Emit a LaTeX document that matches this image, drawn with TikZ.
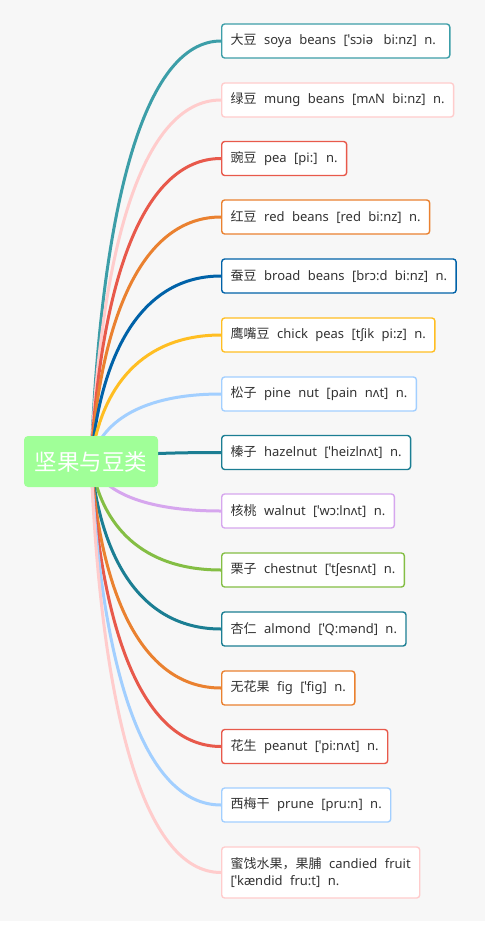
\documentclass[tikz,border=0pt]{standalone}
\usepackage{fontspec}
\setmainfont{Noto Sans}[WordSpace=2.2]
\newfontfamily\cjk{Noto Sans CJK SC}[WordSpace=2.2]
\usetikzlibrary{calc}
\pgfdeclarelayer{bgpaper}
\pgfdeclarelayer{edgelayer}
\pgfsetlayers{bgpaper,edgelayer,main}
\definecolor{cA}{HTML}{3C9EA8}
\definecolor{cB}{HTML}{FFCCCC}
\definecolor{cC}{HTML}{E8594B}
\definecolor{cD}{HTML}{EA8130}
\definecolor{cE}{HTML}{0062A8}
\definecolor{cF}{HTML}{FFBE22}
\definecolor{cG}{HTML}{A2CFFF}
\definecolor{cH}{HTML}{1B7E93}
\definecolor{cI}{HTML}{D6A6EE}
\definecolor{cJ}{HTML}{84BE44}
\definecolor{txt}{HTML}{333333}
\definecolor{paper}{HTML}{F7F7F7}
\definecolor{rootfill}{HTML}{A0FF98}
\tikzset{
  leaf/.style={draw=#1, line width=1.4pt, fill=white, rounded corners=3pt,
    anchor=west, minimum height=34pt, inner xsep=9pt, text=txt,
    font=\fontsize{13}{15}\selectfont},
  root/.style={fill=rootfill, rounded corners=4pt, minimum width=134pt,
    minimum height=51pt, text=white, font=\cjk\fontsize{22.5}{24}\selectfont},
  edgeline/.style={line width=3pt, draw=#1},
}
\begin{document}
\begin{tikzpicture}[x=1pt,y=-1pt]
\useasboundingbox (0,0) rectangle (487,929);
\begin{pgfonlayer}{bgpaper}
\fill[white] (0,0) rectangle (487,929);
\fill[paper] (0,0) rectangle (485,921);
\end{pgfonlayer}
\node[root] (c) at (91,461.5) {坚果与豆类};
\node[leaf=cA] (n1) at (221,41) {{\cjk 大豆} soya beans [ˈsɔiə\hspace{3pt} bi:nz] n.\hspace*{5pt}};
\node[leaf=cB] (n2) at (221,100) {{\cjk 绿豆} mung beans [mʌN bi:nz] n.};
\node[leaf=cC] (n3) at (221,158.5) {{\cjk 豌豆} pea [pi:] n.};
\node[leaf=cD] (n4) at (221,217) {{\cjk 红豆} red beans [red bi:nz] n.};
\node[leaf=cE] (n5) at (221,276) {{\cjk 蚕豆} broad beans [brɔ:d bi:nz] n.};
\node[leaf=cF] (n6) at (221,335) {{\cjk 鹰嘴豆} chick peas [tʃik pi:z] n.};
\node[leaf=cG] (n7) at (221,394) {{\cjk 松子} pine nut [pain nʌt] n.};
\node[leaf=cH] (n8) at (221,452.5) {{\cjk 榛子} hazelnut [ˈheizlnʌt] n.};
\node[leaf=cI] (n9) at (221,511) {{\cjk 核桃} walnut [ˈwɔ:lnʌt] n.};
\node[leaf=cJ] (n10) at (221,570) {{\cjk 栗子} chestnut [ˈtʃesnʌt] n.};
\node[leaf=cH] (n11) at (221,629) {{\cjk 杏仁} almond [ˈQ:mənd] n.};
\node[leaf=cD] (n12) at (221,688) {{\cjk 无花果} fig [ˈfig] n.};
\node[leaf=cC] (n13) at (221,746.5) {{\cjk 花生} peanut [ˈpi:nʌt] n.};
\node[leaf=cG] (n14) at (221,805) {{\cjk 西梅干} prune [pru:n] n.};
\node[leaf=cB, align=left, minimum height=51pt, font=\fontsize{13}{17}\selectfont] (n15) at (221,872.5) {{\cjk 蜜饯水果，果脯} candied fruit\\{}[ˈkændid fru:t] n.};
\begin{pgfonlayer}{edgelayer}
\foreach \nd/\col in {n1/cA,n2/cB,n3/cC,n4/cD,n5/cE,n6/cF,n7/cG,n8/cH,n9/cI,n10/cJ,n11/cH,n12/cD,n13/cC,n14/cG,n15/cB}{
  \draw[edgeline=\col] let \p0=(c.center), \p3=(\nd.west) in
    (\p0) .. controls (\x0+10pt, {\y0+0.6*(\y3-\y0)}) and ({\x0+0.4*(\x3-\x0)}, \y3) .. (\p3);
}
\end{pgfonlayer}
\end{tikzpicture}
\end{document}
